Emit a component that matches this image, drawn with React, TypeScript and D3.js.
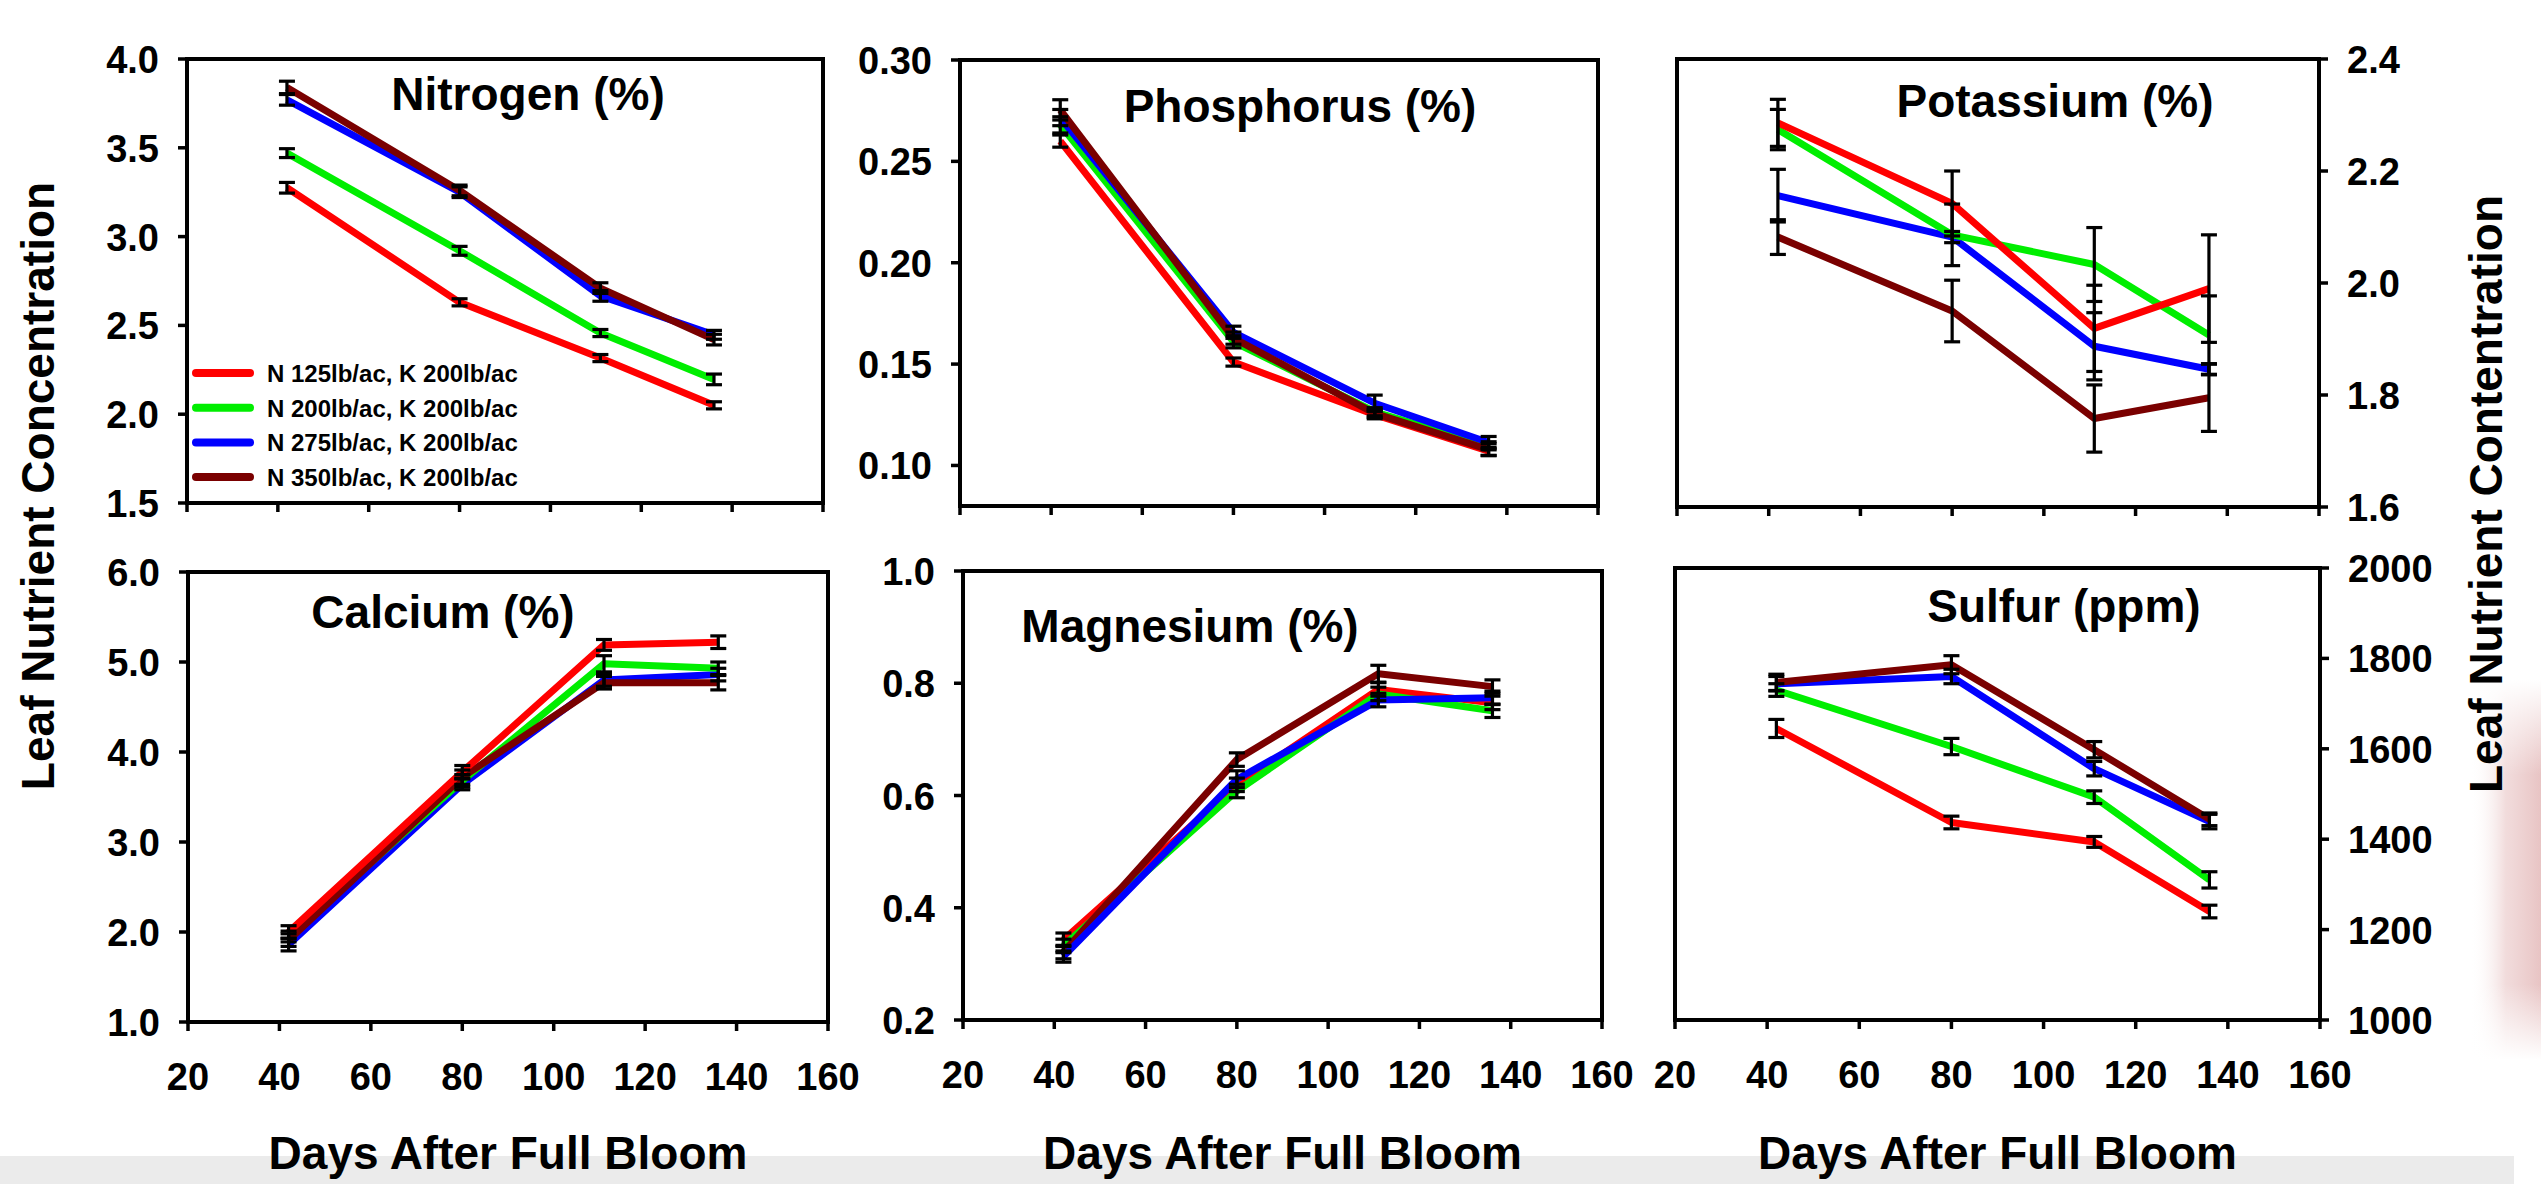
import React from 'react';
import * as d3 from 'd3';

// ---------- data ----------
const days = [42, 80, 111, 136];
const xTicks = [20, 40, 60, 80, 100, 120, 140, 160];
const seriesLabels = [
  'N 125lb/ac, K 200lb/ac',
  'N 200lb/ac, K 200lb/ac',
  'N 275lb/ac, K 200lb/ac',
  'N 350lb/ac, K 200lb/ac',
];
const seriesColors = ['#ff0000', '#00ee00', '#0000ff', '#7a0000'];

const nitrogenMean = [
  [3.275, 2.63, 2.316, 2.05],
  [3.47, 2.92, 2.457, 2.196],
  [3.77, 3.25, 2.666, 2.447],
  [3.84, 3.26, 2.71, 2.42],
];
const nitrogenErr = [
  [0.03, 0.02, 0.02, 0.02],
  [0.025, 0.025, 0.02, 0.03],
  [0.03, 0.03, 0.03, 0.025],
  [0.035, 0.03, 0.03, 0.03],
];
const nitrogenTicks = [1.5, 2.0, 2.5, 3.0, 3.5, 4.0];

const phosphorusMean = [
  [0.26, 0.151, 0.125, 0.107],
  [0.268, 0.161, 0.1265, 0.1097],
  [0.2716, 0.1657, 0.1307, 0.1113],
  [0.2754, 0.1628, 0.1257, 0.1078],
];
const phosphorusErr = [
  [0.003, 0.002, 0.002, 0.002],
  [0.004, 0.003, 0.002, 0.002],
  [0.004, 0.003, 0.004, 0.003],
  [0.005, 0.003, 0.002, 0.003],
];
const phosphorusTicks = [0.1, 0.15, 0.2, 0.25, 0.3];

const potassiumMean = [
  [2.286, 2.142, 1.919, 1.99],
  [2.274, 2.086, 2.033, 1.907],
  [2.156, 2.082, 1.887, 1.846],
  [2.082, 1.95, 1.758, 1.795],
];
const potassiumErr = [
  [0.042, 0.058, 0.077, 0.096],
  [0.036, 0.055, 0.066, 0.07],
  [0.047, 0.01, 0.06, 0.01],
  [0.031, 0.055, 0.06, 0.06],
];
const potassiumTicks = [1.6, 1.8, 2.0, 2.2, 2.4];

const calciumMean = [
  [2.0, 3.78, 5.19, 5.22],
  [1.95, 3.68, 4.98, 4.93],
  [1.86, 3.64, 4.8, 4.86],
  [1.91, 3.72, 4.77, 4.77],
];
const calciumErr = [
  [0.07, 0.07, 0.06, 0.07],
  [0.06, 0.07, 0.09, 0.07],
  [0.07, 0.06, 0.07, 0.07],
  [0.07, 0.08, 0.07, 0.08],
];
const calciumTicks = [1, 2, 3, 4, 5, 6];

const magnesiumMean = [
  [0.343, 0.619, 0.789, 0.765],
  [0.332, 0.608, 0.781, 0.751],
  [0.313, 0.629, 0.77, 0.774],
  [0.321, 0.664, 0.817, 0.794],
];
const magnesiumErr = [
  [0.012, 0.012, 0.012, 0.012],
  [0.012, 0.012, 0.012, 0.012],
  [0.01, 0.015, 0.012, 0.012],
  [0.012, 0.012, 0.015, 0.012],
];
const magnesiumTicks = [0.2, 0.4, 0.6, 0.8, 1.0];

const sulfurMean = [
  [1645, 1437, 1394, 1240],
  [1730, 1605, 1493, 1310],
  [1744, 1760, 1556, 1439],
  [1747, 1786, 1598, 1444],
];
const sulfurErr = [
  [20, 14, 12, 14],
  [14, 18, 14, 18],
  [16, 16, 16, 16],
  [18, 20, 18, 14],
];
const sulfurTicks = [1000, 1200, 1400, 1600, 1800, 2000];

// ---------- layout ----------
type Panel = {
  title: string;
  mean: number[][];
  err: number[][];
  domain: [number, number];
  ticks: number[];
  fmt: string;
  side: 'left' | 'right';
  box: [number, number, number, number];
  tx: number;
  ty: number;
  xLabels: boolean;
  order: number[];
  legend?: boolean;
};

const panels: Panel[] = [
  { title: 'Nitrogen (%)', mean: nitrogenMean, err: nitrogenErr, domain: [1.5, 4.0], ticks: nitrogenTicks, fmt: '.1f', side: 'left', box: [187, 59, 823, 503], tx: 528, ty: 110, xLabels: false, order: [0, 1, 2, 3], legend: true },
  { title: 'Phosphorus (%)', mean: phosphorusMean, err: phosphorusErr, domain: [0.08, 0.3], ticks: phosphorusTicks, fmt: '.2f', side: 'left', box: [960, 60, 1598, 506], tx: 1300, ty: 122, xLabels: false, order: [0, 1, 2, 3] },
  { title: 'Potassium (%)', mean: potassiumMean, err: potassiumErr, domain: [1.6, 2.4], ticks: potassiumTicks, fmt: '.1f', side: 'right', box: [1677, 59, 2319, 507], tx: 2055, ty: 117, xLabels: false, order: [3, 2, 1, 0] },
  { title: 'Calcium (%)', mean: calciumMean, err: calciumErr, domain: [1, 6], ticks: calciumTicks, fmt: '.1f', side: 'left', box: [188, 572, 828, 1022], tx: 443, ty: 628, xLabels: true, order: [2, 1, 3, 0] },
  { title: 'Magnesium (%)', mean: magnesiumMean, err: magnesiumErr, domain: [0.2, 1.0], ticks: magnesiumTicks, fmt: '.1f', side: 'left', box: [963, 571, 1602, 1020], tx: 1190, ty: 642, xLabels: true, order: [0, 1, 3, 2] },
  { title: 'Sulfur (ppm)', mean: sulfurMean, err: sulfurErr, domain: [1000, 2000], ticks: sulfurTicks, fmt: 'd', side: 'right', box: [1675, 568, 2320, 1020], tx: 2064, ty: 622, xLabels: true, order: [0, 1, 2, 3] },
];

const FONT = '"Liberation Sans", Arial, Helvetica, sans-serif';

function PanelView({ p }: { p: Panel }) {
  const [x0, y0, x1, y1] = p.box;
  const x = d3.scaleLinear().domain([20, 160]).range([x0, x1]);
  const y = d3.scaleLinear().domain(p.domain).range([y1, y0]);
  const f = d3.format(p.fmt);
  const line = d3
    .line<number>()
    .x((_, i) => x(days[i]))
    .y((d) => y(d));
  const tickLen = 9;
  const cap = 8;
  return (
    <g>
      {/* data lines */}
      {p.order.map((s) => (
        <path
          key={'l' + s}
          d={line(p.mean[s]) || ''}
          fill="none"
          stroke={seriesColors[s]}
          strokeWidth={7}
          strokeLinejoin="round"
        />
      ))}
      {/* error bars */}
      {p.order.map((s) =>
        p.mean[s].map((m, i) => {
          const cx = x(days[i]);
          const ya = y(m + p.err[s][i]);
          const yb = y(m - p.err[s][i]);
          return (
            <g key={'e' + s + '-' + i} stroke="#000" strokeWidth={3.2}>
              <line x1={cx} x2={cx} y1={ya} y2={yb} />
              <line x1={cx - cap} x2={cx + cap} y1={ya} y2={ya} />
              <line x1={cx - cap} x2={cx + cap} y1={yb} y2={yb} />
            </g>
          );
        })
      )}
      {/* frame */}
      <rect x={x0} y={y0} width={x1 - x0} height={y1 - y0} fill="none" stroke="#000" strokeWidth={4} />
      {/* x ticks */}
      {xTicks.map((t) => (
        <line key={'xt' + t} x1={x(t)} x2={x(t)} y1={y1} y2={y1 + tickLen} stroke="#000" strokeWidth={3.5} />
      ))}
      {p.xLabels &&
        xTicks.map((t) => (
          <text key={'xl' + t} x={x(t)} y={y1 + 68} textAnchor="middle" fontFamily={FONT} fontWeight="bold" fontSize={38} fill="#000">
            {t}
          </text>
        ))}
      {/* y ticks */}
      {p.ticks.map((t) => {
        const yy = y(t);
        const ax = p.side === 'left' ? x0 : x1;
        const dir = p.side === 'left' ? -1 : 1;
        return (
          <g key={'yt' + t}>
            <line x1={ax} x2={ax + dir * tickLen} y1={yy} y2={yy} stroke="#000" strokeWidth={3.5} />
            <text
              x={ax + dir * 28}
              y={yy + 14}
              textAnchor={p.side === 'left' ? 'end' : 'start'}
              fontFamily={FONT}
              fontWeight="bold"
              fontSize={38}
              fill="#000"
            >
              {f(t)}
            </text>
          </g>
        );
      })}
      {/* title */}
      <text x={p.tx} y={p.ty} textAnchor="middle" fontFamily={FONT} fontWeight="bold" fontSize={46} fill="#000">
        {p.title}
      </text>
      {p.legend &&
        seriesLabels.map((lab, i) => {
          const ly = 373 + i * 34.7;
          return (
            <g key={'lg' + i}>
              <line x1={196} x2={250} y1={ly} y2={ly} stroke={seriesColors[i]} strokeWidth={8} strokeLinecap="round" />
              <text x={267} y={ly + 9} fontFamily={FONT} fontWeight="bold" fontSize={24} fill="#000">
                {lab}
              </text>
            </g>
          );
        })}
    </g>
  );
}

export default function App() {
  return (
    <svg
      width={2541}
      height={1184}
      viewBox="0 0 2541 1184"
      style={{ position: 'absolute', left: 0, top: 0, display: 'block', background: '#fff' }}
    >
      <defs>
        <linearGradient id="pinkFade" x1="0" y1="0" x2="1" y2="0">
          <stop offset="0" stopColor="#ffffff" stopOpacity={0} />
          <stop offset="0.5" stopColor="#f0d8d8" stopOpacity={0.9} />
          <stop offset="1" stopColor="#e8c4c4" stopOpacity={1} />
        </linearGradient>
        <linearGradient id="pinkV" x1="0" y1="0" x2="0" y2="1">
          <stop offset="0" stopColor="#fff" stopOpacity={1} />
          <stop offset="0.25" stopColor="#fff" stopOpacity={0} />
          <stop offset="0.8" stopColor="#fff" stopOpacity={0} />
          <stop offset="1" stopColor="#fff" stopOpacity={1} />
        </linearGradient>
      </defs>
      <rect x={0} y={0} width={2541} height={1184} fill="#fff" />
      <rect x={0} y={1156} width={2514} height={28} fill="#ebebeb" />
      <rect x={2470} y={680} width={71} height={380} fill="url(#pinkFade)" />
      <rect x={2470} y={680} width={71} height={380} fill="url(#pinkV)" />
      {panels.map((p, i) => (
        <PanelView key={i} p={p} />
      ))}
      {/* x axis titles */}
      {[panels[3], panels[4], panels[5]].map((p, i) => (
        <text
          key={'xt' + i}
          x={(p.box[0] + p.box[2]) / 2}
          y={1169}
          textAnchor="middle"
          fontFamily={FONT}
          fontWeight="bold"
          fontSize={46}
          fill="#000"
        >
          Days After Full Bloom
        </text>
      ))}
      {/* y axis titles */}
      <text
        transform="translate(54,486) rotate(-90)"
        textAnchor="middle"
        fontFamily={FONT}
        fontWeight="bold"
        fontSize={46}
        fill="#000"
      >
        Leaf Nutrient Concentration
      </text>
      <text
        transform="translate(2502,494) rotate(-90)"
        textAnchor="middle"
        fontFamily={FONT}
        fontWeight="bold"
        fontSize={46}
        fill="#000"
      >
        Leaf Nutrient Contentration
      </text>
    </svg>
  );
}
